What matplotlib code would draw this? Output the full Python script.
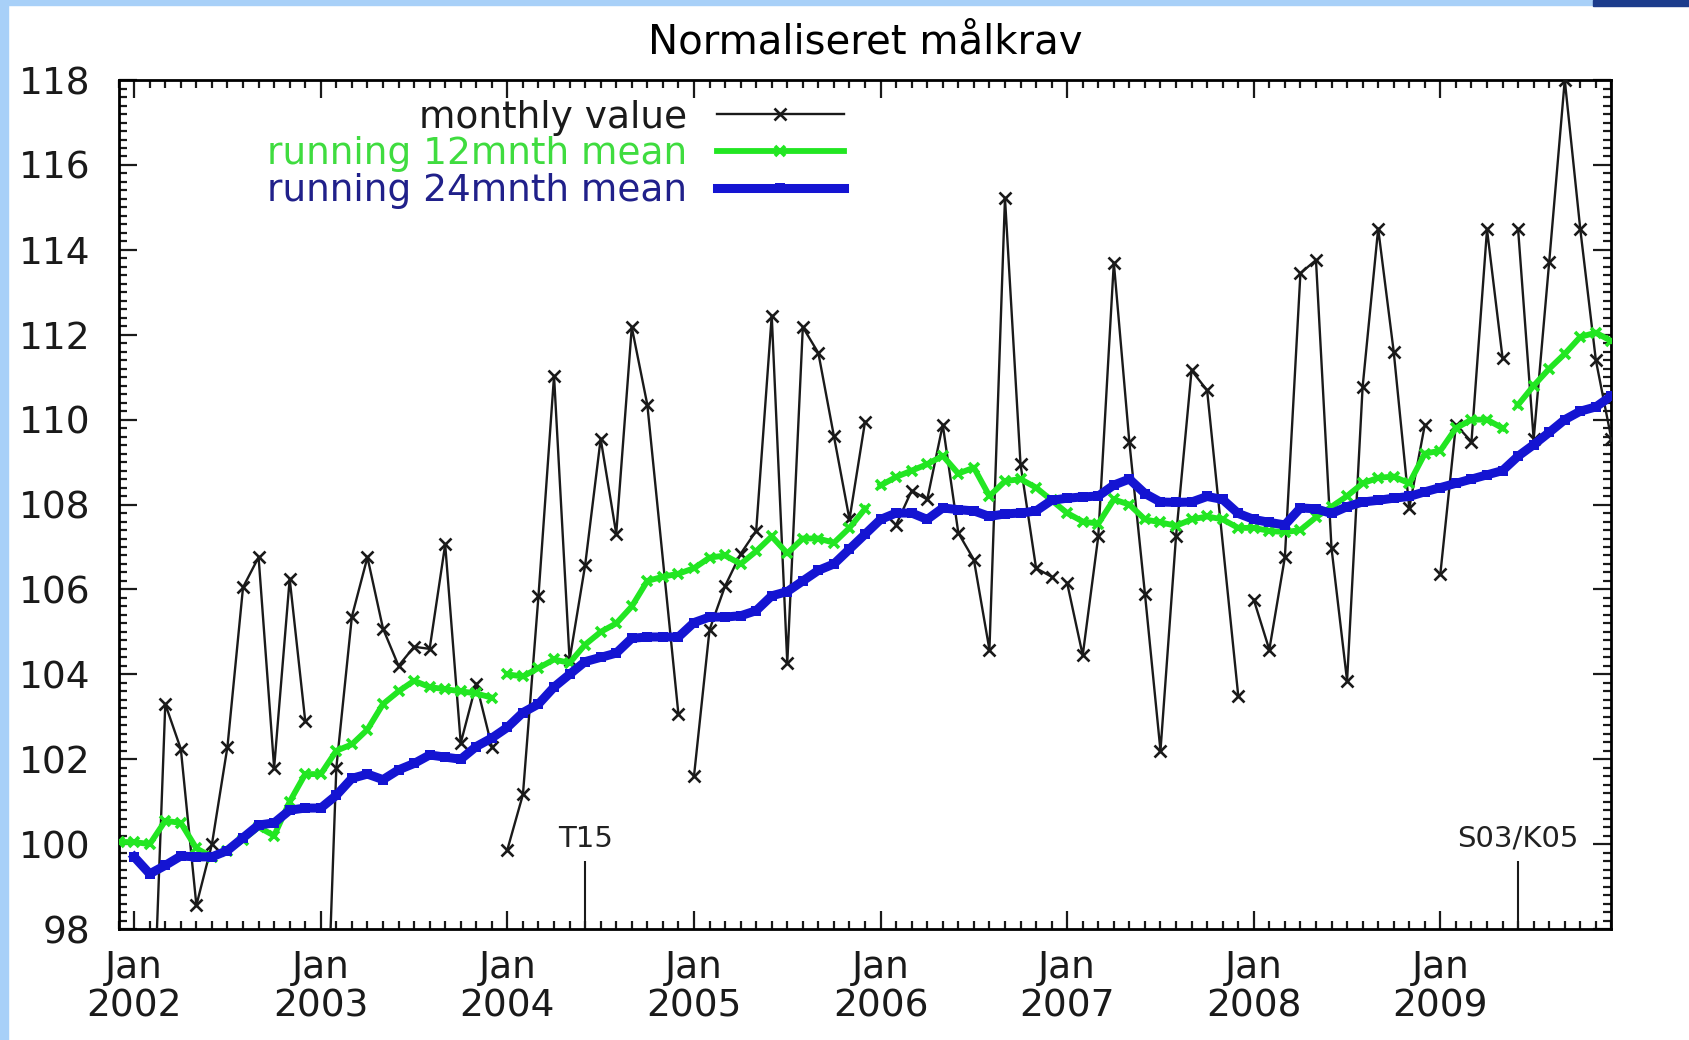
import numpy as np
import matplotlib
matplotlib.use("Agg")
import matplotlib.pyplot as plt
from matplotlib.patches import Rectangle

# Normaliseret målkrav, Jan 2002 - Dec 2009 (one value per month, None = missing)
years = list(range(2002, 2010))

monthly_value = [
    None, 93.4, 103.3, 102.24, 98.56, 100.0, 102.3, 106.05, 106.76, 101.8, 106.25, 102.9,      # 2002
    91.5, 101.8, 105.36, 106.76, 105.08, 104.2, 104.65, 104.6, 107.06, 102.38, 103.78, 102.3,  # 2003
    99.87, 101.17, 105.85, 111.03, 104.34, 106.57, 109.55, 107.31, 112.18, 110.35, None, 103.06,  # 2004
    101.6, 105.05, 106.08, 106.84, 107.38, 112.45, 104.27, 112.18, 111.57, 109.61, 107.65, 109.95,  # 2005
    None, 107.52, 108.33, 108.12, 109.88, 107.33, 106.7, 104.58, 115.22, 108.95, 106.5, 106.3,  # 2006
    106.15, 104.45, 107.25, 113.7, 109.47, 105.9, 102.2, 107.25, 111.16, 110.69, None, 103.5,  # 2007
    105.76, 104.58, 106.76, 113.45, 113.76, 106.97, 103.85, 110.77, 114.5, 111.6, 107.92, 109.88,  # 2008
    106.37, 109.88, 109.48, 114.48, 111.45, 114.48, 109.54, 113.72, 118.0, 114.48, 111.4, 109.54,  # 2009
]

# running 12 month mean, Dec 2001 - Dec 2009
mean12 = [
    100.05,
    100.05, 100.0, 100.55, 100.5, 99.9, 99.7, 99.85, 100.1, 100.4, 100.2, 101.0, 101.65,
    101.65, 102.2, 102.35, 102.7, 103.3, 103.6, 103.85, 103.7, 103.65, 103.6, 103.55, 103.45,
    104.0, 103.95, 104.15, 104.35, 104.27, 104.7, 105.0, 105.2, 105.6, 106.2, 106.3, 106.37,
    106.5, 106.75, 106.8, 106.6, 106.9, 107.25, 106.85, 107.2, 107.2, 107.1, 107.45, 107.9,
    108.45, 108.65, 108.8, 108.95, 109.15, 108.73, 108.87, 108.2, 108.55, 108.6, 108.4, 108.1,
    107.8, 107.6, 107.55, 108.12, 108.0, 107.65, 107.58, 107.5, 107.65, 107.72, 107.65, 107.45,
    107.45, 107.38, 107.35, 107.4, 107.7, 107.95, 108.2, 108.5, 108.63, 108.66, 108.5, 109.2,
    109.27, 109.8, 110.0, 110.0, 109.8, 110.35, 110.8, 111.2, 111.55, 111.95, 112.05, 111.85,
]

# running 24 month mean, Jan 2002 - Dec 2009
mean24 = [
    99.7, 99.3, 99.5, 99.72, 99.7, 99.7, 99.85, 100.15, 100.45, 100.5, 100.8, 100.85,
    100.85, 101.15, 101.55, 101.65, 101.52, 101.75, 101.9, 102.1, 102.05, 102.0, 102.3, 102.5,
    102.75, 103.1, 103.3, 103.7, 104.0, 104.3, 104.4, 104.5, 104.85, 104.88, 104.88, 104.88,
    105.22, 105.35, 105.35, 105.38, 105.5, 105.85, 105.95, 106.2, 106.45, 106.6, 106.95, 107.3,
    107.65, 107.8, 107.8, 107.65, 107.92, 107.88, 107.85, 107.72, 107.78, 107.8, 107.85, 108.1,
    108.15, 108.18, 108.2, 108.46, 108.6, 108.26, 108.06, 108.05, 108.06, 108.19, 108.12, 107.79,
    107.65, 107.58, 107.52, 107.92, 107.9, 107.79, 107.95, 108.06, 108.1, 108.15, 108.19, 108.3,
    108.4, 108.5, 108.6, 108.7, 108.8, 109.14, 109.41, 109.7, 110.0, 110.2, 110.3, 110.56,
]

# month index (0 = Jan 2002) where a new line segment starts
monthly_breaks = [12, 24, 36, 48, 60, 72, 84, 89]
mean12_breaks = [24, 48, 89]
mean24_breaks = []

events = ["T15", "S03/K05"]
event_month = [29, 89]

BLACK = "#1a1a1a"
GREEN = "#22e622"
BLUE = "#1414d2"

plt.rcParams.update({
    "font.family": "DejaVu Sans",
    "font.size": 27,
})

fig = plt.figure(figsize=(16.9, 10.4), dpi=100)
ax = fig.add_axes([0.0702, 0.1067, 0.8833, 0.8163])


def plot_blocks(x, y, breaks, **kw):
    x = np.asarray(x, dtype=float)
    y = np.array([np.nan if v is None else v for v in y], dtype=float)
    edges = [x[0]] + list(breaks) + [x[-1] + 1]
    first = None
    for a, b in zip(edges[:-1], edges[1:]):
        sel = (x >= a) & (x < b) & ~np.isnan(y)
        if sel.any():
            line, = ax.plot(x[sel], y[sel], **kw)
            first = first or line
    return first


months = np.arange(len(monthly_value))
m12_months = np.arange(-1, len(mean12) - 1)
m24_months = np.arange(len(mean24))

h1 = plot_blocks(months, monthly_value, monthly_breaks, color=BLACK, lw=1.7,
                 marker="x", ms=8, mew=1.9, zorder=3)
h2 = plot_blocks(m12_months, mean12, mean12_breaks, color=GREEN, lw=4.2,
                 marker="x", ms=7, mew=2.6, zorder=4)
h3 = plot_blocks(m24_months, mean24, mean24_breaks, color=BLUE, lw=6.5,
                 marker="s", ms=7.5, mew=0, zorder=5)

# event markers
for name, m in zip(events, event_month):
    ax.vlines(m, 98, 99.6, color=BLACK, lw=1.5, zorder=2)
    ax.text(m, 99.8, name, ha="center", va="bottom", fontsize=21, color="#222222")

ax.set_xlim(-1, 95)
ax.set_ylim(98, 118)

ax.set_xticks(np.arange(0, 96, 12))
ax.set_xticklabels([f"Jan\n{y}" for y in years], linespacing=1.1)
ax.set_xticks(np.arange(-1, 96), minor=True)
ax.set_yticks(np.arange(98, 119, 2))
ax.set_yticks(np.arange(98, 118.01, 0.2), minor=True)

ax.tick_params(which="both", direction="in", top=True, right=True, width=1.6, colors=BLACK)
ax.tick_params(which="major", length=13)
ax.tick_params(which="minor", length=6)
ax.tick_params(axis="y", which="major", pad=20)
ax.tick_params(axis="x", which="major", pad=15)
for s in ax.spines.values():
    s.set_linewidth(2)

ax.set_title("Normaliseret målkrav", fontsize=29, pad=19)

leg = ax.legend([h1, h2, h3], ["monthly value", "running 12mnth mean", "running 24mnth mean"],
                loc="upper right", bbox_to_anchor=(0.486, 0.977), markerfirst=False,
                frameon=False, handlelength=3.4, handletextpad=0.8, labelspacing=0.02,
                borderaxespad=0, borderpad=0, fontsize=27)
for txt, c in zip(leg.get_texts(), [BLACK, "#3fdc3f", "#20208a"]):
    txt.set_color(c)

# page border of the slide the chart was cut from
fig.patches.append(Rectangle((0, 0), 8 / 1690, 1, transform=fig.transFigure,
                             color="#a8d0f8", zorder=-1))
fig.patches.append(Rectangle((0, 1 - 5 / 1040), 1, 5 / 1040, transform=fig.transFigure,
                             color="#a8d0f8", zorder=-1))
fig.patches.append(Rectangle((1593 / 1690, 1 - 6 / 1040), 97 / 1690, 6 / 1040,
                             transform=fig.transFigure, color="#1c3c8c", zorder=-1))

fig.savefig("out.png", dpi=100)
